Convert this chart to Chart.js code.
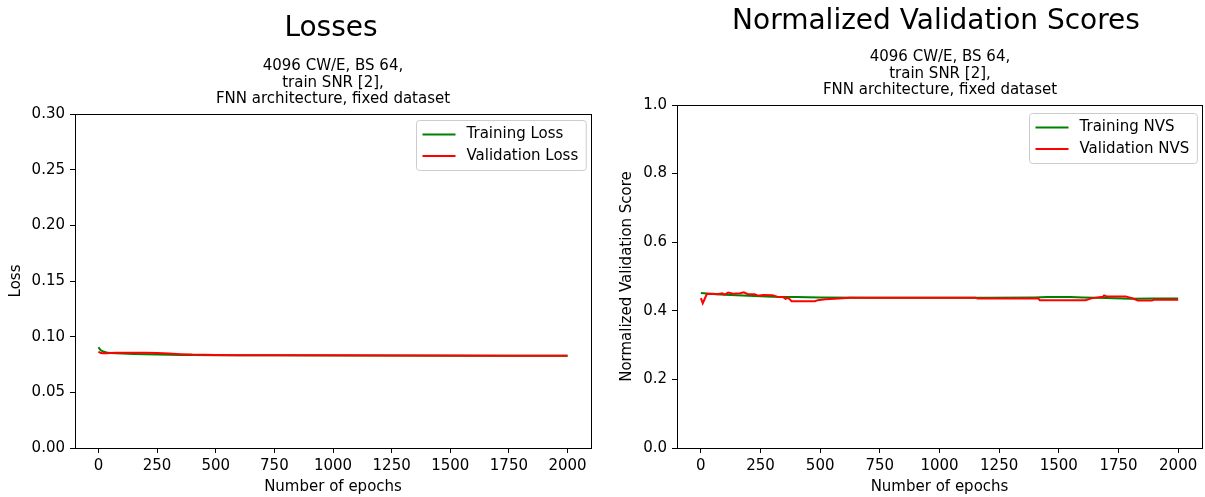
<!DOCTYPE html>
<html>
<head>
<meta charset="utf-8">
<script src="https://cdn.jsdelivr.net/npm/chart.js@4.4.0/dist/chart.umd.min.js"></script>
<style>
  body { margin: 0; background: #fff; width: 1205px; height: 497px; overflow: hidden; position: relative; font-family: 'DejaVu Sans', sans-serif; color: #000; }
  canvas { position: absolute; top: 0; }
  .title { position: absolute; font-size: 28px; line-height: 28px; white-space: nowrap; transform: translateX(-50%); }
  .sub { position: absolute; font-size: 15px; line-height: 16.6px; text-align: center; white-space: nowrap; transform: translateX(-50%); }
</style>
</head>
<body>
<canvas id="lossChart" width="600" height="497" style="left:0"></canvas>
<canvas id="nvsChart" width="605" height="497" style="left:600px"></canvas>

<div class="title" style="left:331px; top:13px">Losses</div>
<div class="sub" style="left:333px; top:57px">4096 CW/E, BS 64,<br>train SNR [2],<br>FNN architecture, fixed dataset</div>
<div class="title" style="left:936px; top:6px">Normalized Validation Scores</div>
<div class="sub" style="left:940px; top:48px">4096 CW/E, BS 64,<br>train SNR [2],<br>FNN architecture, fixed dataset</div>

<script>
// ---- data ----
const lossEpochs = [0, 5, 10, 20, 35, 50, 75, 100, 150, 200, 250, 300, 350, 400, 500, 600, 750, 1000, 1250, 1500, 1750, 2000];
const trainLoss = [0.0905, 0.0890, 0.0878, 0.0866, 0.0858, 0.0853, 0.0850, 0.0848, 0.0845, 0.0843, 0.0840, 0.0838, 0.0836, 0.0835, 0.0834, 0.0833, 0.0832, 0.0831, 0.0830, 0.0829, 0.0828, 0.0828];
const valLoss = [0.0865, 0.0858, 0.0853, 0.0851, 0.0852, 0.0854, 0.0855, 0.0856, 0.0856, 0.0855, 0.0853, 0.0849, 0.0843, 0.0839, 0.0836, 0.0834, 0.0833, 0.0832, 0.0831, 0.0830, 0.0829, 0.0829];

const nvsTrainEpochs = [0, 50, 100, 200, 300, 400, 500, 700, 1000, 1200, 1400, 1450, 1550, 1600, 1700, 1800, 1900, 2000];
const nvsTrain = [0.452, 0.449, 0.447, 0.444, 0.441, 0.440, 0.439, 0.438, 0.438, 0.438, 0.439, 0.440, 0.440, 0.439, 0.437, 0.435, 0.436, 0.436];

const nvsValEpochs = [0, 8, 25, 50, 70, 90, 100, 115, 135, 165, 180, 195, 225, 240, 260, 300, 320, 345, 355, 365,
  372, 380, 478, 490, 522, 560, 625, 1151, 1160, 1414, 1420, 1612, 1640, 1685, 1690, 1700, 1780, 1810, 1832, 1890, 1900, 2000];
const nvsVal = [0.437, 0.422, 0.449, 0.450, 0.448, 0.451, 0.447, 0.453, 0.450, 0.451, 0.454, 0.449, 0.448, 0.444, 0.446, 0.445, 0.441, 0.440, 0.435, 0.438,
  0.434, 0.428, 0.428, 0.431, 0.434, 0.435, 0.438, 0.438, 0.436, 0.436, 0.431, 0.431, 0.437, 0.441, 0.445, 0.442, 0.442, 0.436, 0.430, 0.430, 0.432, 0.432];

const epochTicks = [0, 250, 500, 750, 1000, 1250, 1500, 1750, 2000];
const lossTicks = [0, 0.05, 0.10, 0.15, 0.20, 0.25, 0.30];
const nvsTicks = [0, 0.2, 0.4, 0.6, 0.8, 1.0];

// ---- helpers ----
const FONT = 'DejaVu Sans';
const FS = 15;

function pts(xs, ys) {
  return xs.map((x, i) => ({ x: x, y: ys[i] }));
}

// frame round the plot + a matplotlib style legend box
const framePlugin = {
  id: 'frame',
  afterDraw(chart, args, opts) {
    const { ctx, chartArea: a } = chart;
    ctx.save();
    ctx.strokeStyle = '#000';
    ctx.lineWidth = 1;
    ctx.strokeRect(Math.round(a.left) + 0.5, Math.round(a.top) + 0.5,
      Math.round(a.right - a.left), Math.round(a.bottom - a.top));

    ctx.font = FS + 'px "' + FONT + '"';
    const sets = chart.data.datasets;
    const textW = Math.max(...sets.map(d => ctx.measureText(d.label).width));
    const w = 6 + 33 + 11 + textW + 8;
    const h = 50;
    const x0 = Math.round(a.right - opts.right - w) + 0.5;
    const y0 = Math.round(a.top + opts.top) + 0.5;

    ctx.beginPath();
    ctx.roundRect(x0, y0, w, h, 3);
    ctx.fillStyle = 'rgba(255,255,255,0.8)';
    ctx.fill();
    ctx.strokeStyle = '#cccccc';
    ctx.stroke();

    sets.forEach((d, i) => {
      const yy = y0 + 14 + i * 21.5;
      ctx.beginPath();
      ctx.moveTo(x0 + 6, yy);
      ctx.lineTo(x0 + 39, yy);
      ctx.strokeStyle = d.borderColor;
      ctx.lineWidth = 2;
      ctx.stroke();
      ctx.fillStyle = '#000';
      ctx.textBaseline = 'middle';
      ctx.fillText(d.label, x0 + 50, yy);
    });
    ctx.restore();
  }
};

function makeOptions(cfg) {
  return {
    responsive: false,
    animation: false,
    devicePixelRatio: 1,
    layout: { padding: { left: cfg.padLeft, right: cfg.padRight, top: cfg.padTop, bottom: 0 } },
    elements: {
      line: { borderWidth: 2, tension: 0, fill: false },
      point: { radius: 0 }
    },
    plugins: {
      legend: { display: false },
      tooltip: { enabled: false },
      frame: { top: cfg.legendTop, right: cfg.legendRight }
    },
    scales: {
      x: {
        type: 'linear',
        min: -100,
        max: 2100,
        afterBuildTicks: s => { s.ticks = epochTicks.map(v => ({ value: v })); },
        afterFit: s => { s.height = 49; },
        border: { display: false },
        grid: { drawOnChartArea: false, drawTicks: true, tickLength: 5, tickColor: '#000' },
        ticks: { color: '#000', padding: 4, maxRotation: 0, font: { family: FONT, size: FS }, callback: v => String(v) },
        title: { display: true, text: 'Number of epochs', color: '#000', padding: { top: 0, bottom: 1 }, font: { family: FONT, size: FS } }
      },
      y: {
        type: 'linear',
        min: cfg.yMin,
        max: cfg.yMax,
        afterBuildTicks: s => { s.ticks = cfg.yTicks.map(v => ({ value: v })); },
        afterFit: s => { s.width = cfg.yWidth; },
        border: { display: false },
        grid: { drawOnChartArea: false, drawTicks: true, tickLength: 5, tickColor: '#000' },
        ticks: { color: '#000', padding: 5, font: { family: FONT, size: FS }, callback: v => v.toFixed(cfg.yDigits) },
        title: { display: true, text: cfg.yTitle, color: '#000', padding: { top: 0, bottom: 0 }, font: { family: FONT, size: FS } }
      }
    }
  };
}

new Chart(document.getElementById('lossChart'), {
  type: 'line',
  data: {
    datasets: [
      { label: 'Training Loss', data: pts(lossEpochs, trainLoss), borderColor: '#008000', order: 2 },
      { label: 'Validation Loss', data: pts(lossEpochs, valLoss), borderColor: '#ff0000', order: 1 }
    ]
  },
  options: makeOptions({ yMin: 0, yMax: 0.30, yTicks: lossTicks, yDigits: 2, yTitle: 'Loss',
    padLeft: 7, yWidth: 68, padRight: 9, padTop: 114, legendTop: 6, legendRight: 5 }),
  plugins: [framePlugin]
});

new Chart(document.getElementById('nvsChart'), {
  type: 'line',
  data: {
    datasets: [
      { label: 'Training NVS', data: pts(nvsTrainEpochs, nvsTrain), borderColor: '#008000', order: 2 },
      { label: 'Validation NVS', data: pts(nvsValEpochs, nvsVal), borderColor: '#ff0000', order: 1 }
    ]
  },
  options: makeOptions({ yMin: 0, yMax: 1.0, yTicks: nvsTicks, yDigits: 1, yTitle: 'Normalized Validation Score',
    padLeft: 18, yWidth: 59, padRight: 3, padTop: 105, legendTop: 8, legendRight: 5 }),
  plugins: [framePlugin]
});
</script>
</body>
</html>
